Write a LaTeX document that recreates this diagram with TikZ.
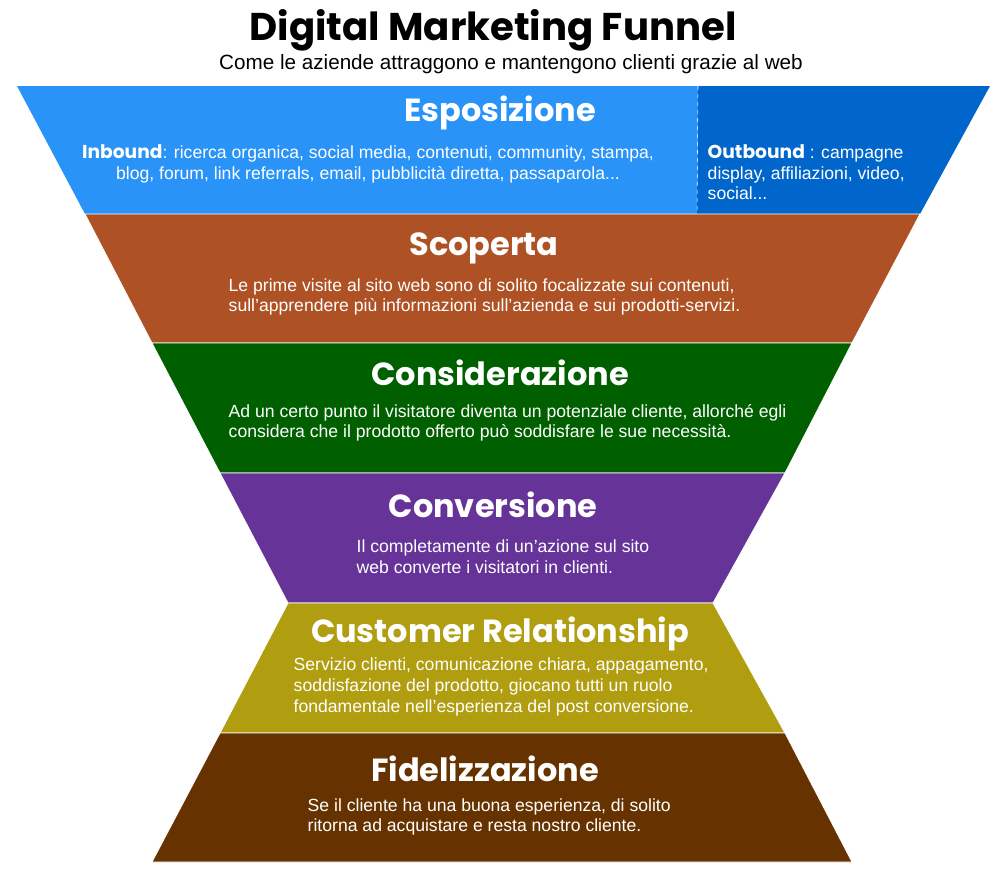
\documentclass[tikz,border=0pt]{standalone}
\usepackage{fontspec}
\setmainfont{Liberation Sans}
\newfontfamily\headfont{Poppins}
\definecolor{espoL}{HTML}{2A93F7}
\definecolor{espoR}{HTML}{0066CC}
\definecolor{scop}{HTML}{AE5226}
\definecolor{cons}{HTML}{006000}
\definecolor{conv}{HTML}{663399}
\definecolor{cust}{HTML}{B09E10}
\definecolor{fide}{HTML}{663300}
\tikzset{
  band/.style={draw=white, line width=0.6pt},
  head/.style={text=white, font=\headfont\bfseries\fontsize{24}{26}\selectfont},
  body/.style={text=white, font=\fontsize{13.2}{15.5}\selectfont, align=left, anchor=west}
}
\begin{document}
\begin{tikzpicture}[x=0.75pt,y=-0.75pt]
  \useasboundingbox (0,0) rectangle (1000,869);
  % bands
  \fill[espoL] (17,86) -- (698,86) -- (697,214) -- (85,214) -- cycle;
  \fill[espoR] (698,86) -- (990,86) -- (920,214) -- (697,214) -- cycle;
  \draw[white, dashed] (698,86) -- (697,214);
  \fill[band, fill=scop] (85,214) -- (920,214) -- (852,343) -- (152,343) -- cycle;
  \fill[band, fill=cons] (152,343) -- (852,343) -- (785,473) -- (220,473) -- cycle;
  \fill[band, fill=conv] (220,473) -- (785,473) -- (713,603) -- (288,603) -- cycle;
  \fill[band, fill=cust] (288,603) -- (713,603) -- (785,733) -- (220,733) -- cycle;
  \fill[band, fill=fide] (220,733) -- (785,733) -- (852,862) -- (152,862) -- cycle;
  % title
  \node[font=\headfont\bfseries\fontsize{29}{32}\selectfont] (title) at (493,30) {Digital Marketing Funnel};
  \node[font=\fontsize{15.5}{17}\selectfont] (sub) at (511,64) {Come le aziende attraggono e mantengono clienti grazie al web};
  % headings
  \node[head] (espo) at (500,113) {Esposizione};
  \node[head] (scoph) at (484,248) {Scoperta};
  \node[head] (consh) at (500,373) {Considerazione};
  \node[head] (convh) at (493,505) {Conversione};
  \node[head] (custh) at (500,634) {Customer Relationship};
  \node[head] (fideh) at (485,769) {Fidelizzazione};
  % texts
  \node[body, align=center, anchor=north] (inb) at (368,140)
    {{\headfont\bfseries\fontsize{14}{15}\selectfont Inbound}: ricerca organica, social media, contenuti, community, stampa,\\
     blog, forum, link referrals, email, pubblicità diretta, passaparola...};
  \node[body, anchor=north west] (outb) at (703,140)
    {{\headfont\bfseries\fontsize{14}{15}\selectfont Outbound} : campagne\\display, affiliazioni, video,\\social...};
  \node[body] (scopt) at (224,297) {Le prime visite al sito web sono di solito focalizzate sui contenuti,\\sull'apprendere più informazioni sull'azienda e sui prodotti-servizi.};
  \node[body] (const) at (224,423) {Ad un certo punto il visitatore diventa un potenziale cliente, allorché egli\\considera che il prodotto offerto può soddisfare le sue necessità.};
  \node[body] (convt) at (352,557) {Il completamente di un'azione sul sito\\web converte i visitatori in clienti.};
  \node[body] (custt) at (289,687) {Servizio clienti, comunicazione chiara, appagamento,\\soddisfazione del prodotto, giocano tutti un ruolo\\fondamentale nell'esperienza del post conversione.};
  \node[body] (fidet) at (303,817) {Se il cliente ha una buona esperienza, di solito\\ritorna ad acquistare e resta nostro cliente.};
\end{tikzpicture}
\end{document}
